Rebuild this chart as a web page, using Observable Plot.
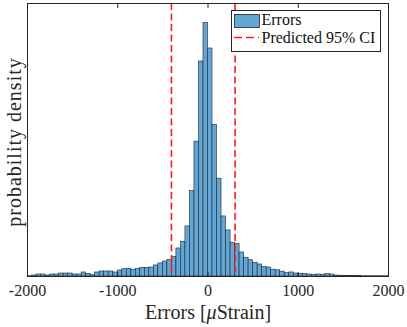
<!DOCTYPE html>
<html>
<head>
<meta charset="utf-8">
<script src="https://cdn.jsdelivr.net/npm/d3@7"></script>
<script src="https://cdn.jsdelivr.net/npm/@observablehq/plot@0.6"></script>
<style>
  html, body { margin: 0; padding: 0; background: #fff; }
</style>
</head>
<body>
<div id="chart"></div>
<script>
// Histogram bins (µStrain) — bin width 50 from -2000 to 2000
const binWidth = 50;
const binStart = d3.range(-2000, 2000, binWidth);
// probability density, in units of 1e-4 per µStrain
const densityE4 = [
  0.03, 0.11, 0.22, 0.22, 0.11, 0.22, 0.22, 0.33, 0.33, 0.33,
  0.22, 0.22, 0.45, 0.30, 0.14, 0.45, 0.56, 0.56, 0.56, 0.45,
  0.67, 0.81, 0.86, 0.75, 0.86, 0.97, 0.97, 1.00, 1.23, 1.45,
  1.67, 1.84, 2.17, 3.12, 3.87, 5.58, 9.51, 15.02, 23.94, 28.24,
  25.39, 16.87, 10.89, 6.69, 5.13, 3.76, 3.60, 2.68, 2.09, 1.81,
  1.53, 1.34, 1.06, 1.00, 0.76, 0.69, 0.54, 0.37, 0.45, 0.33,
  0.30, 0.26, 0.22, 0.19, 0.22, 0.19, 0.26, 0.22, 0.11, 0.08,
  0.08, 0.06, 0.06, 0.04, 0.03, 0.03, 0.03, 0.03, 0.03, 0.03
];
const ciBounds = [-405, 300];           // predicted 95% CI (µStrain)
const xTicks = [-2000, -1000, 0, 1000, 2000];
const yMaxE4 = 30.4;
const legendLabels = ["Errors", "Predicted 95% CI"];

const bins = binStart.map((s, i) => ({x1: s, x2: s + binWidth, density: densityE4[i]}));

const barFill = "#62a6d5";
const barStroke = "#1b2733";
const axisColor = "#262626";

const plot = Plot.plot({
  width: 407,
  height: 327,
  marginLeft: 27,
  marginRight: 19,
  marginTop: 3,
  marginBottom: 51,
  style: {fontFamily: "'Liberation Serif', serif", fontSize: "16px", background: "white", color: axisColor},
  x: {domain: [-2000, 2000]},
  y: {domain: [0, yMaxE4], axis: null},
  marks: [
    Plot.rectY(bins, {x1: "x1", x2: "x2", y: "density", fill: barFill, stroke: barStroke, strokeWidth: 0.6}),
    Plot.ruleX(ciBounds, {stroke: "#ff1a1a", strokeWidth: 1.6, strokeDasharray: "7,3.5"}),
    Plot.frame({stroke: axisColor}),
    Plot.axisX({anchor: "bottom", ticks: xTicks, tickSize: -4, fill: "none", label: null, stroke: axisColor}),
    Plot.axisX({anchor: "top", ticks: xTicks, tickSize: -4, fill: "none", label: null, stroke: axisColor}),
    Plot.axisX({anchor: "bottom", ticks: xTicks, tickSize: 0, tickPadding: 8, tickFormat: d => String(d), label: null, fill: axisColor})
  ]
});

document.getElementById("chart").appendChild(plot);

const svg = d3.select(plot);
// x label
const xl = svg.append("text")
  .attr("x", 208).attr("y", 318.5)
  .attr("text-anchor", "middle")
  .attr("font-family", "'Liberation Serif', serif")
  .attr("font-size", 20)
  .attr("fill", axisColor);
xl.append("tspan").text("Errors [");
xl.append("tspan").attr("font-style", "italic").text("μ");
xl.append("tspan").text("Strain]");

// y label
svg.append("text")
  .attr("transform", "translate(20.5,142) rotate(-90)")
  .attr("text-anchor", "middle")
  .attr("font-family", "'Liberation Serif', serif")
  .attr("font-size", 20)
  .attr("letter-spacing", "1px")
  .attr("fill", axisColor)
  .text("probability density");

// legend
const lg = svg.append("g");
lg.append("rect").attr("x", 231.5).attr("y", 10.5).attr("width", 149).attr("height", 41)
  .attr("fill", "white").attr("stroke", axisColor).attr("stroke-width", 1);
lg.append("rect").attr("x", 234.5).attr("y", 14.5).attr("width", 25).attr("height", 13)
  .attr("fill", barFill).attr("stroke", barStroke).attr("stroke-width", 0.8);
lg.append("line").attr("x1", 234).attr("x2", 259).attr("y1", 37.5).attr("y2", 37.5)
  .attr("stroke", "#ff1a1a").attr("stroke-width", 1.6).attr("stroke-dasharray", "8,4");
lg.selectAll("text.lbl").data(legendLabels).join("text")
  .attr("class", "lbl")
  .attr("x", 261.5)
  .attr("y", (d, i) => i === 0 ? 25 : 42.7)
  .attr("text-anchor", "start")
  .attr("font-family", "'Liberation Serif', serif")
  .attr("font-size", 16)
  .attr("fill", "#111")
  .text(d => d);
</script>
</body>
</html>
